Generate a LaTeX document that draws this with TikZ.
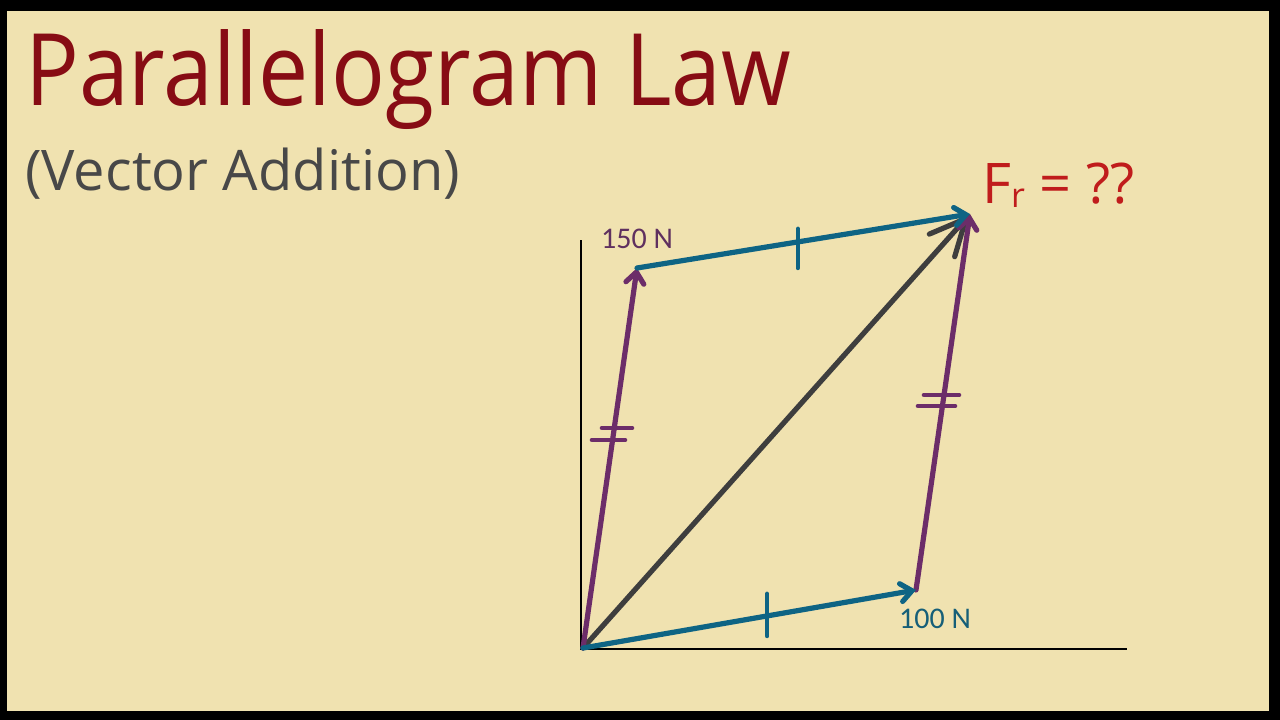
\documentclass[tikz,border=0pt]{standalone}
\usepackage{fontspec}
\setmainfont{Open Sans}
\newfontfamily\lblfont{Carlito}
\usetikzlibrary{arrows.meta,calc}
\definecolor{bgc}{RGB}{240,226,176}
\definecolor{titred}{RGB}{135,12,20}
\definecolor{subgray}{RGB}{72,72,72}
\definecolor{frred}{RGB}{192,28,28}
\definecolor{vpurp}{RGB}{108,45,105}
\definecolor{vblue}{RGB}{14,100,132}
\definecolor{vdark}{RGB}{62,62,62}
\definecolor{lpurp}{RGB}{95,48,95}
\definecolor{lblue}{RGB}{22,95,120}
\tikzset{
  axisline/.style={draw=black,line width=1.2pt},
  vecb/.style={draw=vblue,line width=5.2pt,line cap=round},
  vecp/.style={draw=vpurp,line width=5.2pt,line cap=round},
  vecr/.style={draw=vdark,line width=5.2pt,line cap=round},
  smalltip/.style={-{Straight Barb[length=11pt,width=18pt,line cap=round]}},
  bigtip/.style={-{Straight Barb[length=36pt,width=34pt,line cap=round]}},
  hatch/.style={line width=4.6pt,line cap=round},
  lbl/.style={inner sep=0pt,font=\lblfont\fontsize{30}{32}\selectfont}
}
\begin{document}
\begin{tikzpicture}[x=1pt,y=-1pt]
\fill[black] (0,0) rectangle (1280,720);
\fill[bgc] (7,11) rectangle (1269,711);
\useasboundingbox (0,0) rectangle (1280,720);
% titles
\node[anchor=base west,inner sep=0pt,text=titred] (title) at (25,105)
  {\fontsize{100}{110}\selectfont\scalebox{0.895}[1]{Parallelogram Law}};
\node[anchor=base west,inner sep=0pt,text=subgray] (sub) at (25,190)
  {\fontsize{56}{60}\selectfont{(Vector Addition)}};
\node[anchor=base west,inner sep=0pt,text=frred] (fr) at (982,203)
  {\fontsize{56}{60}\selectfont F\raisebox{-4pt}{\fontsize{34}{36}\selectfont r} = ??};
% points
\coordinate (O) at (583,648);
\coordinate (A) at (916,590);
\coordinate (B) at (637,268);
\coordinate (C) at (970,214);
\coordinate (ytop) at (581,240);
\coordinate (xend) at (1127,649);
% axes
\draw[axisline] (ytop) |- (xend);
% vectors
\draw[vecr,bigtip] (O) -- (C);
\draw[vecp,smalltip] (O) -- (B);
\draw[vecp,smalltip] (A) -- (C);
\draw[vecb,smalltip] (O) -- (A);
\draw[vecb,smalltip] (B) -- (C);
% tick marks
\draw[vblue,hatch] ($(O)!0.553!(A)$) +(0,-22) -- +(0,20);
\draw[vblue,hatch] ($(B)!0.483!(C)$) +(0,-13) -- +(0,26);
\draw[vpurp,hatch] (602,428) -- (632,428);
\draw[vpurp,hatch] (592,440) -- (625,440);
\draw[vpurp,hatch] (924,395) -- (959,395);
\draw[vpurp,hatch] (918,406) -- (955,406);
% labels
\node[lbl,text=lpurp] (l150) at (637,239) {150 N};
\node[lbl,text=lblue] (l100) at (935,619) {100 N};
\end{tikzpicture}
\end{document}
